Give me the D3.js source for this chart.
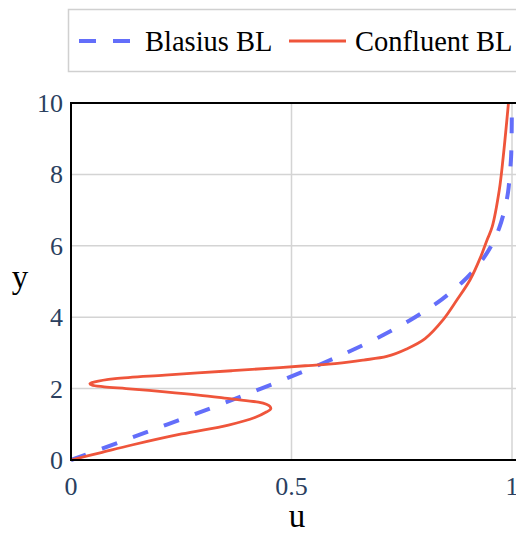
<!DOCTYPE html>
<html>
<head>
<meta charset="utf-8">
<script src="https://cdn.jsdelivr.net/npm/d3@7"></script>
</head>
<body style="margin:0; background:#fff">
<svg id="chart" width="516" height="533"></svg>
<script>

// Blasius profile
let blasiusY = [0, 0.5, 1, 1.5, 2, 2.5, 3, 3.5, 4, 4.5, 5, 5.5, 6, 6.5, 7, 7.5, 8, 8.5, 9, 9.5, 10];
let blasiusU = [0, 0.110, 0.219, 0.327, 0.431, 0.531, 0.624, 0.708, 0.780, 0.841, 0.889, 0.926, 0.953, 0.971, 0.983, 0.991, 0.995, 0.998, 0.999, 0.9995, 0.9998];

// Confluent profile
let confluentY = [0, 0.2, 0.42, 0.73, 0.98, 1.19, 1.35, 1.43, 1.50, 1.56, 1.62, 1.71, 1.82, 1.91, 2.00, 2.05, 2.10, 2.14, 2.19, 2.28, 2.38, 2.50, 2.59, 2.64, 2.67, 2.75, 2.80, 2.90, 3.11, 3.40, 3.93, 4.48, 5.05, 5.69, 6.15, 6.53, 7.55, 8.48, 10];
let confluentU = [0, 0.066, 0.138, 0.251, 0.357, 0.417, 0.444, 0.453, 0.451, 0.443, 0.425, 0.364, 0.289, 0.213, 0.125, 0.075, 0.047, 0.043, 0.054, 0.100, 0.213, 0.364, 0.474, 0.531, 0.572, 0.633, 0.663, 0.716, 0.761, 0.803, 0.844, 0.875, 0.905, 0.929, 0.943, 0.955, 0.971, 0.980, 0.992];

let xTicks = [0, 0.5, 1];
let xTickLabels = ["0", "0.5", "1"];
let yTicks = [0, 2, 4, 6, 8, 10];
let yTickLabels = ["0", "2", "4", "6", "8", "10"];

let seriesNames = ["Blasius BL", "Confluent BL"];
let seriesColors = ["#636efa", "#ef553b"];

var tickColor = "#2a3f5f";
var serif = "Liberation Serif";
var width = 516, height = 533;

var svg = d3.select("#chart");

var x = d3.scaleLinear().domain([0, 1]).range([71, 512]);
var y = d3.scaleLinear().domain([0, 10]).range([460, 103]);

//gridlines
svg.append("g").selectAll("line")
  .data(yTicks.filter(function(d) { return d > 0 && d < 10; }))
  .enter().append("line")
  .attr("x1", 71).attr("x2", width)
  .attr("y1", function(d) { return y(d); })
  .attr("y2", function(d) { return y(d); })
  .attr("stroke", "#d4d4d4")
  .attr("stroke-width", 1.5);

svg.append("g").selectAll("line")
  .data(xTicks.filter(function(d) { return d > 0; }))
  .enter().append("line")
  .attr("x1", function(d) { return x(d); })
  .attr("x2", function(d) { return x(d); })
  .attr("y1", 103).attr("y2", 460)
  .attr("stroke", "#d4d4d4")
  .attr("stroke-width", 1.5);

// curves
var blasius = blasiusY.map(function(d, i) { return {y: d, u: blasiusU[i]}; });
var confluent = confluentY.map(function(d, i) { return {y: d, u: confluentU[i]}; });

var line = d3.line()
  .x(function(d) { return x(d.u); })
  .y(function(d) { return y(d.y); });

svg.append("path")
  .datum(blasius)
  .attr("d", line.curve(d3.curveCatmullRom))
  .attr("fill", "none")
  .attr("stroke", seriesColors[0])
  .attr("stroke-width", 4)
  .attr("stroke-dasharray", "16,17");

svg.append("path")
  .datum(confluent)
  .attr("d", line.curve(d3.curveCatmullRom.alpha(0.5)))
  .attr("fill", "none")
  .attr("stroke", seriesColors[1])
  .attr("stroke-width", 2.8)
  .attr("stroke-linejoin", "round");

// axis lines (left, bottom, top mirror)
svg.append("line").attr("x1", 71).attr("x2", 71).attr("y1", 102).attr("y2", 461)
  .attr("stroke", "#000").attr("stroke-width", 2);
svg.append("line").attr("x1", 70).attr("x2", width).attr("y1", 460).attr("y2", 460)
  .attr("stroke", "#000").attr("stroke-width", 2);
svg.append("line").attr("x1", 70).attr("x2", width).attr("y1", 103).attr("y2", 103)
  .attr("stroke", "#000").attr("stroke-width", 2);

// tick labels
svg.append("g").selectAll("text")
  .data(xTicks)
  .enter().append("text")
  .attr("x", function(d) { return x(d); })
  .attr("y", 495)
  .attr("text-anchor", "middle")
  .style("font-family", serif)
  .style("font-size", "26px")
  .attr("fill", tickColor)
  .text(function(d, i) { return xTickLabels[i]; });

svg.append("g").selectAll("text")
  .data(yTicks)
  .enter().append("text")
  .attr("x", 63)
  .attr("y", function(d) { return y(d) + 9; })
  .attr("text-anchor", "end")
  .style("font-family", serif)
  .style("font-size", "26px")
  .attr("fill", tickColor)
  .text(function(d, i) { return yTickLabels[i]; });

// axis titles
svg.append("text")
  .attr("x", 297).attr("y", 527)
  .attr("text-anchor", "middle")
  .style("font-family", serif)
  .style("font-size", "33px")
  .text("u");

svg.append("text")
  .attr("x", 20).attr("y", 288)
  .attr("text-anchor", "middle")
  .style("font-family", serif)
  .style("font-size", "33px")
  .text("y");

// legend
var legend = svg.append("g");
legend.append("rect")
  .attr("x", 68.5).attr("y", 9.5)
  .attr("width", 470).attr("height", 62)
  .attr("fill", "#fff")
  .attr("stroke", "#d0d0d0")
  .attr("stroke-width", 1.5);

var legendItems = [
  {x0: 79, x1: 130, tx: 145},
  {x0: 289, x1: 346, tx: 355}
];

legend.selectAll(".lg-line")
  .data(seriesNames)
  .enter().append("line")
  .attr("class", "lg-line")
  .attr("x1", function(d, i) { return legendItems[i].x0; })
  .attr("x2", function(d, i) { return legendItems[i].x1; })
  .attr("y1", 41).attr("y2", 41)
  .attr("stroke", function(d, i) { return seriesColors[i]; })
  .attr("stroke-width", function(d, i) { return i === 0 ? 4 : 3; })
  .attr("stroke-dasharray", function(d, i) { return i === 0 ? "17,17" : null; });

legend.selectAll(".lg-text")
  .data(seriesNames)
  .enter().append("text")
  .attr("class", "lg-text")
  .attr("x", function(d, i) { return legendItems[i].tx; })
  .attr("y", 51)
  .style("font-family", serif)
  .style("font-size", "28.5px")
  .attr("fill", "#000")
  .text(function(d) { return d; });

</script>
</body>
</html>
